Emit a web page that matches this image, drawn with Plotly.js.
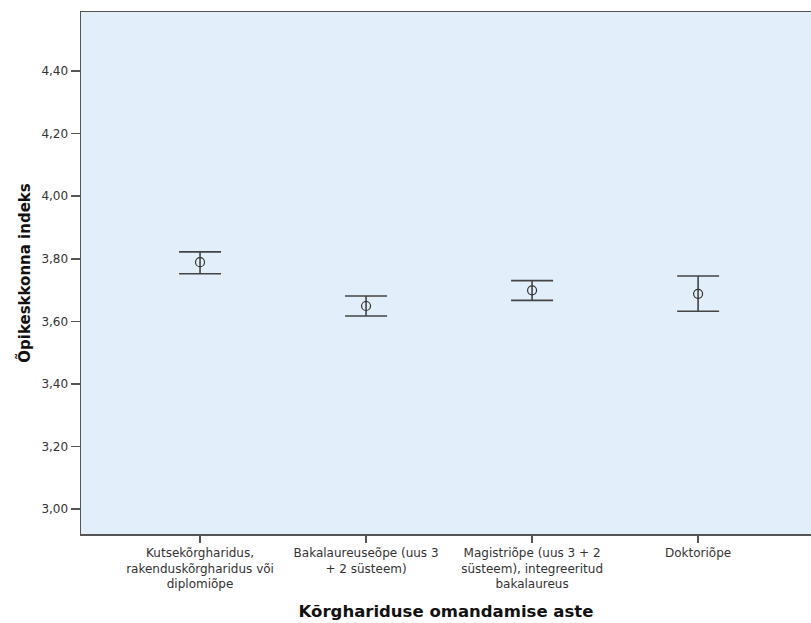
<!DOCTYPE html>
<html><head><meta charset="utf-8">
<script src="https://cdn.plot.ly/plotly-3.0.1.min.js"></script>
<style>body{margin:0;background:#fff}</style>
</head><body>
<div id="chart" style="width:811px;height:623px"></div>
<script>
const categories = [
  "Kutsekõrgharidus,<br>rakenduskõrgharidus või<br>diplomiõpe",
  "Bakalaureuseõpe (uus 3<br>+ 2 süsteem)",
  "Magistriõpe (uus 3 + 2<br>süsteem), integreeritud<br>bakalaureus",
  "Doktoriõpe"
];
const means = [3.789, 3.649, 3.699, 3.688];
const upper = [3.822, 3.681, 3.730, 3.745];
const lower = [3.752, 3.617, 3.667, 3.632];
const yTickVals = [3.0, 3.2, 3.4, 3.6, 3.8, 4.0, 4.2, 4.4];
const yTickText = ["3,00", "3,20", "3,40", "3,60", "3,80", "4,00", "4,20", "4,40"];

const xIdx = categories.map((c, i) => i);
const trace = {
  type: 'scatter', mode: 'markers',
  x: xIdx, y: means,
  marker: {symbol: 'circle-open', size: 9, color: '#333', line: {width: 1.2, color: '#333'}},
  error_y: {
    type: 'data', symmetric: false,
    array: upper.map((u, i) => u - means[i]),
    arrayminus: lower.map((l, i) => means[i] - l),
    color: '#444', thickness: 1.6, width: 21
  },
  hoverinfo: 'none'
};
const tickFont = {family: 'DejaVu Sans, Arial, sans-serif', size: 12, color: '#333'};
const layout = {
  width: 811, height: 623,
  margin: {l: 81, r: 0, t: 12, b: 89},
  paper_bgcolor: '#ffffff', plot_bgcolor: '#e2eefa',
  showlegend: false,
  font: {family: 'DejaVu Sans, Arial, sans-serif', color: '#333', size: 12},
  xaxis: {
    range: [-0.717, 3.68], tickmode: 'array', tickvals: xIdx, ticktext: categories,
    showgrid: false, zeroline: false, showline: true, mirror: true,
    linecolor: '#555', linewidth: 1.5, ticks: 'outside', ticklen: 7, tickwidth: 1.5, tickcolor: '#555',
    tickfont: tickFont,
    title: {text: 'Kõrghariduse omandamise aste', font: {size: 16.5, color: '#111', family: 'DejaVu Sans, Arial, sans-serif', weight: 'bold'}, standoff: 15}
  },
  yaxis: {
    range: [2.92, 4.589], tickmode: 'array', tickvals: yTickVals, ticktext: yTickText,
    showgrid: false, zeroline: false, showline: true, mirror: true,
    linecolor: '#555', linewidth: 1.5, ticks: 'outside', ticklen: 9, tickwidth: 1.5, tickcolor: '#555',
    tickfont: tickFont,
    title: {text: 'Õpikeskkonna indeks', font: {size: 15, color: '#111', family: 'DejaVu Sans, Arial, sans-serif', weight: 'bold'}, standoff: 7}
  }
};
Plotly.newPlot('chart', [trace], layout, {displayModeBar: false, staticPlot: true});
</script>
</body></html>
